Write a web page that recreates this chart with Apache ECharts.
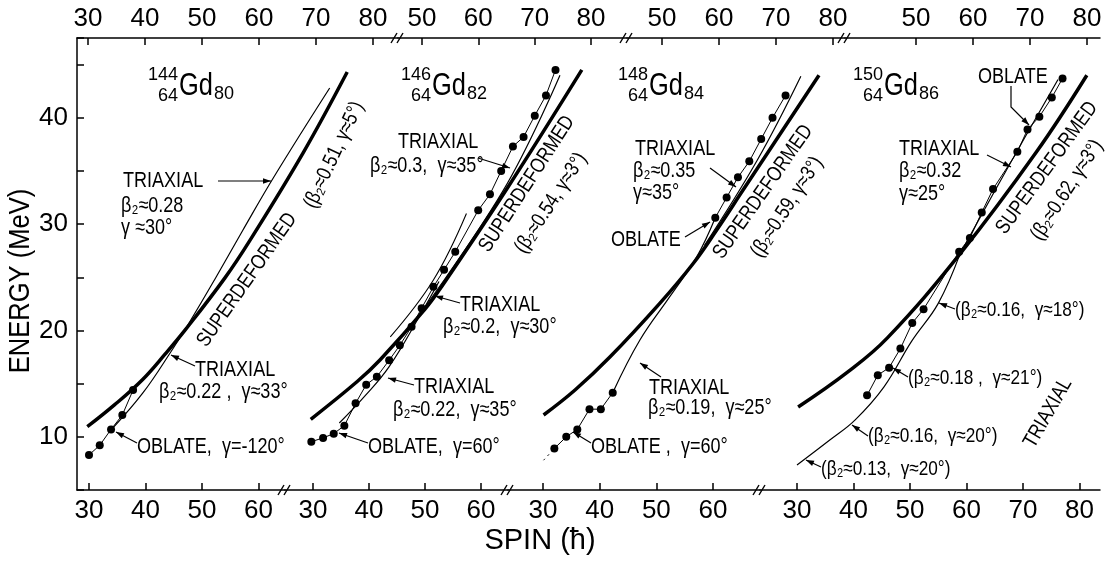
<!DOCTYPE html>
<html>
<head>
<meta charset="utf-8">
<script src="https://cdn.jsdelivr.net/npm/echarts@6.0.0/dist/echarts.min.js"></script>
<style>
  html, body { margin: 0; padding: 0; background: #fff; }
  #main { width: 1108px; height: 562px; }
</style>
</head>
<body>
<div id="main"></div>
<script>
// spin (hbar), energy (MeV), one set per nucleus
const p1Superdeformed = [[29.7, 10.95], [34.5, 13.0], [39.5, 15.4], [43.5, 17.8], [47.1, 20.1], [54.0, 24.9], [58.4, 28.4], [67.9, 36.7], [75.7, 44.3]];
const p1Triaxial = [[34.0, 10.7], [39.5, 14.1], [44.5, 18.0], [47.7, 20.7], [52.2, 24.75], [57.2, 29.4], [62.8, 34.5], [72.6, 42.8]];
const p1Levels = [[30, 8.3], [31.9, 9.2], [33.9, 10.7], [35.9, 12.05], [37.8, 14.4]];

const p2Superdeformed = [[29.6, 11.65], [37.9, 15.2], [42, 17.25], [50, 22.0], [53.2, 24.3], [64.6, 33.3], [78, 44.5]];
const p2TriaxialLow = [[34.7, 11.3], [39.2, 13.8], [43.6, 16.6], [49.3, 21.6], [52.5, 24.6]];
const p2TriaxialMid = [[43.8, 19.4], [51.5, 24.75], [57.4, 31.0]];
const p2TriaxialHigh = [[47.9, 20.7], [64.0, 33.2], [74.1, 44.0]];
const p2Levels = [[29.7, 9.54], [31.8, 9.9], [33.7, 10.3], [35.6, 11.05], [37.6, 13.15], [39.5, 14.9], [41.4, 15.65],
  [43.6, 17.2], [45.5, 18.6], [47.6, 20.35], [49.4, 22.1], [51.5, 24.1], [53.4, 25.7], [55.4, 27.4], [59.5, 31.3],
  [61.6, 32.8], [63.6, 35.0], [65.7, 37.3], [67.6, 38.2], [69.6, 40.2], [71.6, 42.1], [73.3, 44.5]];

const p3Superdeformed = [[30.1, 12.05], [35.65, 14.4], [41.8, 17.5], [50.6, 22.55], [56.5, 26.3], [60.65, 29.45], [65.3, 33.2], [78.7, 44.0]];
const p3TriaxialLow = [[42.3, 14.15], [47.1, 19.1], [52.4, 23.2], [57.1, 26.9], [60.4, 30.6]];
const p3TriaxialHigh = [[58.5, 28.0], [67.8, 36.0], [75.5, 43.9]];
const p3Levels = [[32.0, 8.9], [34.1, 10.0], [36.05, 10.7], [38.2, 12.6], [40.2, 12.6], [42.3, 14.15]];
const p3LevelsHigh = [[60.4, 30.6], [62.4, 32.5], [64.4, 34.4], [66.4, 35.9], [68.5, 38.0], [70.5, 40.0], [72.8, 42.1]];
const p3Extension = [[30.1, 7.8], [32.0, 8.9]];

const p4Superdeformed = [[30.2, 12.8], [39, 16.1], [46, 19.3], [58.85, 27.2], [72.4, 36.8], [81.3, 44.0]];
const p4TriaxialLow = [[30.0, 7.35], [35.8, 9.7], [40.3, 11.6], [45.4, 14.7], [50.3, 19.0], [55.0, 22.55], [58.85, 27.2]];
const p4TriaxialHigh = [[58.85, 27.2], [67.4, 35.4], [76.2, 43.6]];
const p4Levels = [[42.4, 13.9], [44.3, 15.8], [46.3, 16.5], [48.3, 18.3], [50.4, 20.7], [52.4, 22.0], [58.7, 27.4],
  [60.6, 28.7], [62.7, 31.1], [64.7, 33.3], [69.0, 36.8], [70.8, 38.9], [72.9, 40.1], [75.1, 41.9], [77.0, 43.7]];

// tick labels
const bottomTicks = [[30, 40, 50, 60], [30, 40, 50, 60], [30, 40, 50, 60], [30, 40, 50, 60, 70, 80]];
const topTicks = [[30, 40, 50, 60, 70, 80], [50, 60, 70, 80], [50, 60, 70, 80], [50, 60, 70, 80]];
const energyTicks = [10, 20, 30, 40];

const FONT = "'Liberation Sans', Arial, sans-serif";
const TOP = 38, BOTTOM = 490, RIGHT = 1100;
const NARROW = 0.82;

// broken spin axis: bottom segments, top segments (second scale)
const bottomSegs = [
  { left: 77, right: 285, min: 27.876, max: 64.69 },
  { left: 285, right: 508, min: 25.0, max: 64.82 },
  { left: 508, right: 760, min: 23.82, max: 68.29 },
  { left: 760, right: RIGHT, min: 23.45, max: 83.63 },
];
const topSegs = [
  { left: 77, right: 398, min: 28.07, max: 84.39 },
  { left: 398, right: 627, min: 45.74, max: 86.39 },
  { left: 627, right: 845, min: 43.86, max: 82.1 },
  { left: 845, right: RIGHT, min: 37.54, max: 82.28 },
];

const grids = [], xAxes = [], yAxes = [];
const black = { color: "#000", width: 1.5 };
function addGrid(left, width, x, y) {
  grids.push({ left: left, width: width, top: TOP, height: BOTTOM - TOP });
  const idx = grids.length - 1;
  xAxes.push(Object.assign({ type: "value", gridIndex: idx, splitLine: { show: false } }, x));
  yAxes.push(Object.assign({ type: "value", gridIndex: idx, min: 5, max: 47.5, interval: 5, splitLine: { show: false } }, y));
}
function axisSeg(seg, ticks, pos, showY) {
  addGrid(seg.left, seg.right - seg.left, {
    position: pos, min: seg.min, max: seg.max,
    axisLine: { onZero: false, lineStyle: black },
    axisTick: { inside: true, length: 7, customValues: ticks, lineStyle: black },
    axisLabel: { customValues: ticks, color: "#000", fontSize: 26, fontFamily: FONT, margin: pos === "top" ? 6 : 8 },
  }, {
    show: showY,
    axisLine: { show: true, lineStyle: black },
    axisTick: { inside: true, length: 7, lineStyle: black },
    axisLabel: {
      color: "#000", fontSize: 26, fontFamily: FONT, margin: 9,
      formatter: (v) => (energyTicks.includes(v) ? String(v) : ""),
    },
  });
}
bottomSegs.forEach((s, i) => axisSeg(s, bottomTicks[i], "bottom", i === 0));
topSegs.forEach((s, i) => axisSeg(s, topTicks[i], "top", false));
// data grids: same spin scale as each bottom segment, stretched to the right edge
bottomSegs.forEach((s) => {
  const w = RIGHT - s.left;
  const k = (s.max - s.min) / (s.right - s.left);
  addGrid(s.left, w, { show: false, min: s.min, max: s.min + w * k }, { show: false });
});

function curve(data, p, width, extra) {
  return Object.assign({
    type: "line", data: data, xAxisIndex: 8 + p, yAxisIndex: 8 + p, smooth: 0.4, symbol: "none",
    silent: true, lineStyle: { color: "#000", width: width },
  }, extra || {});
}
function levels(data, p) {
  return {
    type: "line", data: data, xAxisIndex: 8 + p, yAxisIndex: 8 + p, symbol: "circle", symbolSize: 8,
    showAllSymbol: true, silent: true,
    lineStyle: { color: "#000", width: 1 }, itemStyle: { color: "#000" },
  };
}

const series = [
  curve(p1Superdeformed, 0, 3.5), curve(p1Triaxial, 0, 1.2), levels(p1Levels, 0),
  curve(p2Superdeformed, 1, 3.5), curve(p2TriaxialLow, 1, 1.2), curve(p2TriaxialMid, 1, 1.1),
  curve(p2TriaxialHigh, 1, 1.2), levels(p2Levels, 1),
  curve(p3Superdeformed, 2, 3.5), curve(p3TriaxialLow, 2, 1.2), curve(p3TriaxialHigh, 2, 1.2),
  levels(p3Levels, 2), levels(p3LevelsHigh, 2),
  curve(p3Extension, 2, 1, { lineStyle: { color: "#000", width: 1, type: [2, 4] } }),
  curve(p4Superdeformed, 3, 3.5), curve(p4TriaxialLow, 3, 1.2), curve(p4TriaxialHigh, 3, 1.2),
  levels(p4Levels, 3),
];

// annotations
const g = [];
function txt(s, x, y, size, align, rot, sx) {
  g.push({
    type: "text", x: x, y: y, rotation: ((rot || 0) * Math.PI) / 180, scaleX: sx || NARROW, silent: true,
    style: {
      text: s, fill: "#000", fontSize: size, fontFamily: FONT,
      align: align || "left", textAlign: align || "left", verticalAlign: "middle", textVerticalAlign: "middle",
    },
  });
}
function head(x1, y1, x2, y2) {
  const a = Math.atan2(y2 - y1, x2 - x1), L = 8, W = 2.8;
  const bx = x2 - L * Math.cos(a), by = y2 - L * Math.sin(a);
  g.push({
    type: "polygon", silent: true, style: { fill: "#000" },
    shape: { points: [[x2, y2], [bx + W * Math.sin(a), by - W * Math.cos(a)], [bx - W * Math.sin(a), by + W * Math.cos(a)]] },
  });
}
function arrow(pts) {
  g.push({ type: "polyline", silent: true, shape: { points: pts }, style: { stroke: "#000", lineWidth: 1.2, fill: null } });
  const n = pts.length;
  head(pts[n - 2][0], pts[n - 2][1], pts[n - 1][0], pts[n - 1][1]);
}
function nuclide(a, x, n) {
  txt(a, x - 1, 75, 19, "right", 0, 0.95);
  txt("Gd", x, 86, 31, "left");
  txt("64", x - 1, 96, 19, "right", 0, 0.95);
  txt(n, x + 35, 94, 19, "left", 0, 0.95);
}
function brk(x, y) {
  g.push({ type: "rect", silent: true, shape: { x: x - 4, y: y - 2, width: 8, height: 4 }, style: { fill: "#fff" } });
  g.push({ type: "line", silent: true, shape: { x1: x - 7, y1: y + 5, x2: x - 1, y2: y - 5 }, style: { stroke: "#000", lineWidth: 1.4 } });
  g.push({ type: "line", silent: true, shape: { x1: x - 1, y1: y + 5, x2: x + 5, y2: y - 5 }, style: { stroke: "#000", lineWidth: 1.4 } });
}

[285, 508, 760].forEach((x) => brk(x, BOTTOM));
[398, 627, 845].forEach((x) => brk(x, TOP));

txt("ENERGY (MeV)", 21, 281, 29, "center", 90, 0.88);
txt("SPIN (ħ)", 540, 541, 29, "center", 0, 1);

nuclide("144", 179, "80");
nuclide("146", 432, "82");
nuclide("148", 649, "84");
nuclide("150", 884, "86");

// 144Gd
txt("TRIAXIAL", 123, 181, 22);
txt("β₂≈0.28", 121, 206, 22);
txt("γ ≈30°", 121, 228, 22);
arrow([[218, 181], [271, 181]]);
txt("(β₂≈0.51, γ≈5°)", 334, 155, 21, "center", 65);
txt("SUPERDEFORMED", 247, 280, 21, "center", 55);
txt("TRIAXIAL", 195, 370, 22);
txt("β₂≈0.22 ,  γ≈33°", 159, 392, 22);
arrow([[195, 366], [171, 355]]);
txt("OBLATE,  γ=-120°", 137, 447, 22);
arrow([[137, 443], [116, 432]]);

// 146Gd
txt("TRIAXIAL", 398, 142, 22);
txt("β₂≈0.3,  γ≈35°", 370, 166, 22);
arrow([[478, 158], [510, 168]]);
txt("SUPERDEFORMED", 527, 184, 21, "center", 57);
txt("(β₂≈0.54, γ≈3°)", 551, 203, 21, "center", 57);
txt("TRIAXIAL", 460, 305, 22);
txt("β₂≈0.2,  γ≈30°", 443, 327, 22);
arrow([[460, 303], [435, 296]]);
txt("TRIAXIAL", 414, 387, 22);
txt("β₂≈0.22,  γ≈35°", 393, 410, 22);
arrow([[414, 385], [388, 378]]);
txt("OBLATE,  γ=60°", 368, 447, 22);
arrow([[368, 443], [339, 433]]);

// 148Gd
txt("TRIAXIAL", 635, 149, 22);
txt("β₂≈0.35", 633, 171, 22);
txt("γ≈35°", 633, 193, 22);
arrow([[710, 168], [736, 187]]);
txt("OBLATE", 611, 240, 22);
arrow([[685, 237], [710, 222]]);
txt("SUPERDEFORMED", 763, 192, 21, "center", 55);
txt("(β₂≈0.59, γ≈3°)", 787, 207, 21, "center", 57);
txt("TRIAXIAL", 649, 388, 22);
txt("β₂≈0.19,  γ≈25°", 648, 408, 22);
arrow([[661, 377], [640, 363]]);
txt("OBLATE ,  γ=60°", 591, 447, 22);
arrow([[591, 443], [573, 432]]);

// 150Gd
txt("OBLATE", 978, 77, 22);
arrow([[1011, 86], [1011, 107], [1029, 125]]);
txt("TRIAXIAL", 899, 149, 22);
txt("β₂≈0.32", 899, 171, 22);
txt("γ≈25°", 899, 194, 22);
arrow([[987, 155], [1011, 167]]);
txt("SUPERDEFORMED", 1047, 168, 21, "center", 54);
txt("(β₂≈0.62, γ≈3°)", 1067, 190, 21, "center", 57);
txt("(β₂≈0.16,  γ≈18°)", 955, 310, 21);
arrow([[955, 309], [939, 303]]);
txt("(β₂≈0.18 ,  γ≈21°)", 908, 378, 21);
arrow([[908, 377], [893, 368]]);
txt("(β₂≈0.16,  γ≈20°)", 868, 436, 21);
arrow([[868, 436], [852, 425]]);
txt("(β₂≈0.13,  γ≈20°)", 821, 469, 21);
arrow([[821, 467], [806, 460]]);
txt("TRIAXIAL", 1048, 413, 21, "center", 60);

const chart = echarts.init(document.getElementById("main"), null, { renderer: "canvas" });
chart.setOption({
  animation: false,
  backgroundColor: "#fff",
  grid: grids,
  xAxis: xAxes,
  yAxis: yAxes,
  series: series,
  graphic: g,
});
</script>
</body>
</html>
